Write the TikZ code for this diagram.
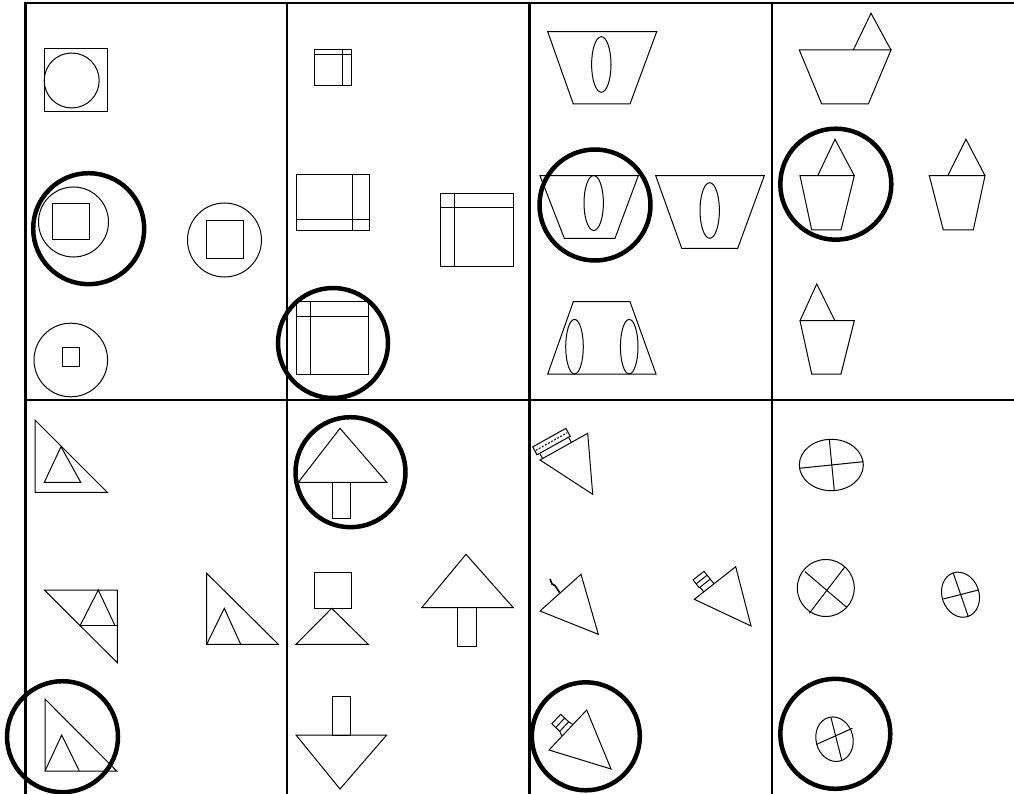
\documentclass[tikz,border=0pt]{standalone}
\begin{document}
\begin{tikzpicture}[x=1pt,y=-1pt,
  fig/.style={draw=black, line width=1pt, line join=miter},
  ring/.style={draw=black, line width=4.5pt},
  gridline/.style={draw=black, line width=1.6pt},
  heavyline/.style={draw=black, line width=3pt}]
\useasboundingbox (0,0) rectangle (1014,794);
% grid
\draw[gridline] (25,3) -- (1014,3);
\draw[gridline] (25,400) -- (1014,400);
\draw[heavyline] (25,2) -- (25,794);
\draw[gridline] (287,3) -- (287,794);
\draw[heavyline] (529,3) -- (529,794);
\draw[gridline] (772,3) -- (772,794);
% cell 1
\draw[fig] (44,49) rectangle (107,112);
\draw[fig] (71.7,80.5) circle (27.5);
\draw[fig] (73.5,222) circle (35);
\draw[fig] (52.5,203.5) rectangle (89.5,240);
\draw[ring] (88.7,228.7) circle (55.5);
\draw[fig] (224.5,240) circle (37);
\draw[fig] (206,221) rectangle (243.3,258.3);
\draw[fig] (70.8,360) circle (36.8);
\draw[fig] (62.3,347.7) rectangle (79.3,366.7);
% cell 2
\draw[fig] (314.3,49.3) rectangle (351,86);
\draw[fig] (314.3,55) -- (351,55);
\draw[fig] (342.3,49.3) -- (342.3,86);
\draw[fig] (296,175) rectangle (369,230.7);
\draw[fig] (352.7,175) -- (352.7,230.7);
\draw[fig] (296,220) -- (369,220);
\draw[fig] (440,193.3) rectangle (513,266.7);
\draw[fig] (454.7,193.3) -- (454.7,266.7);
\draw[fig] (440,207.7) -- (513,207.7);
\draw[fig] (296.7,301.7) rectangle (368.3,374);
\draw[fig] (310.7,301.7) -- (310.7,374);
\draw[fig] (296.7,316) -- (368.3,316);
\draw[ring] (333,343) circle (55);
% cell 3
\draw[fig] (547.7,31.7) -- (656.7,31.7) -- (630,104) -- (573.3,104) -- cycle;
\draw[fig] (601.3,64.5) ellipse [x radius=9.7, y radius=27.8];
\draw[fig] (540,175.7) -- (638.3,175.7) -- (615,238.3) -- (564.3,238.3) -- cycle;
\draw[fig] (593.7,203) ellipse [x radius=9.7, y radius=27.5];
\draw[ring] (595,205) circle (55.5);
\draw[fig] (655.7,175.7) -- (764.3,175.7) -- (737.7,248.3) -- (681.7,248.3) -- cycle;
\draw[fig] (709.7,210.5) ellipse [x radius=9.7, y radius=27.8];
\draw[fig] (573.3,301.7) -- (630,301.7) -- (656,374) -- (547.7,374) -- cycle;
\draw[fig] (574.5,346.7) ellipse [x radius=8.8, y radius=27.3];
\draw[fig] (629.2,346.7) ellipse [x radius=8.8, y radius=27.3];
% cell 4
\draw[fig] (799.3,50) -- (891,50) -- (868.3,104) -- (821.7,104) -- cycle;
\draw[fig] (853.3,50) -- (871,13.3) -- (891,50);
\draw[fig] (800,175.7) -- (854.3,175.7) -- (841,230) -- (811.7,230) -- cycle;
\draw[fig] (817.7,175.7) -- (835,139.3) -- (854.3,175.7);
\draw[ring] (835.8,184.2) circle (55.5);
\draw[fig] (929.3,175.7) -- (985,175.7) -- (973.3,230) -- (943.3,230) -- cycle;
\draw[fig] (947.7,175.7) -- (966,139.3) -- (985,175.7);
\draw[fig] (800,320.7) -- (854.3,320.7) -- (841,374) -- (811.7,374) -- cycle;
\draw[fig] (800,320.7) -- (816.7,284) -- (835,320.7);
% cell 5
\draw[fig] (35,420) -- (35,492.3) -- (107.3,492.3) -- cycle;
\draw[fig] (44.3,482.3) -- (61,446.7) -- (80.7,482.3) -- cycle;
\draw[fig] (44.3,590) -- (117.3,590) -- (117.3,662.7) -- cycle;
\draw[fig] (80,625.7) -- (117.3,625.7);
\draw[fig] (80,625.7) -- (98.3,590) -- (115,625.7);
\draw[fig] (206.7,573.3) -- (206.7,644.3) -- (278.3,644.3) -- cycle;
\draw[fig] (206.7,644.3) -- (224.3,608.3) -- (240.7,644.3);
\draw[fig] (45,699) -- (45,771) -- (116.7,771) -- cycle;
\draw[fig] (45,771) -- (61.7,735) -- (79.3,771);
\draw[ring] (62.5,736.7) circle (55.5);
% cell 6
\draw[fig] (298.3,482.3) -- (340,428.3) -- (386.7,482.3) -- cycle;
\draw[fig] (332.3,482.3) rectangle (350.7,518.3);
\draw[ring] (350.5,472.2) circle (55);
\draw[fig] (314.3,572.7) rectangle (351,608.3);
\draw[fig] (296,644.3) -- (331.7,608.3) -- (368.3,644.3) -- cycle;
\draw[fig] (421.7,607.7) -- (466,554.3) -- (513.3,607.7) -- cycle;
\draw[fig] (457.7,607.7) rectangle (476.7,646.7);
\draw[fig] (332.3,696.7) rectangle (350.7,735);
\draw[fig] (296,735) -- (386.7,735) -- (340,789) -- cycle;
% cell 7
\draw[fig] (540,460) -- (587.7,433.3) -- (592.7,494.3) -- cycle;
\begin{scope}[shift={(540,460)}, rotate=29.2]
  \draw[fig] (3,0) -- (3,-6) (36,0) -- (36,-6);
  \draw[fig] (0,-6) rectangle (38,-15);
  \draw[fig, dash pattern=on 2pt off 1.5pt] (1,-10.5) -- (37,-10.5);
\end{scope}
\draw[fig] (540,611) -- (581,574.3) -- (598.3,634.3) -- cycle;
\draw[fig, line width=1.6pt] (550,579) -- (552,584) -- (555,585.5) -- (559.5,592.5);
\draw[fig] (694.3,599.3) -- (735.7,566.7) -- (751,626) -- cycle;
\begin{scope}[shift={(694.3,599.3)}, rotate=38.2]
  \draw[fig] (12,0) -- (12,-6) (25,0) -- (25,-6);
  \draw[fig] (11,-6) rectangle (25,-16);
  \draw[fig] (11,-11) -- (25,-11);
\end{scope}
\draw[fig] (549,750) -- (586.7,710) -- (611,769) -- cycle;
\begin{scope}[shift={(549,750)}, rotate=46.7]
  \draw[fig] (19,0) -- (21,-5) (35,0) -- (34,-5);
  \draw[fig] (21,-5) rectangle (34,-16);
  \draw[fig] (21,-10.5) -- (34,-10.5);
\end{scope}
\draw[ring] (585.8,736.3) circle (54);
% cell 8
\draw[fig] (831.3,465) ellipse [x radius=32, y radius=25.7];
\draw[fig] (829.3,439.3) -- (834.3,490.7);
\draw[fig] (799.3,468.3) -- (863.3,461.7);
\draw[fig] (825.8,588) circle (28.5);
\draw[fig] (805,571.7) -- (846.7,607.3);
\draw[fig] (845,566.7) -- (809.3,613.3);
\draw[fig, rotate around={19:(960.5,594.7)}] (960.5,594.7) ellipse [x radius=18.5, y radius=23];
\draw[fig] (953.3,573.3) -- (968.3,616.7);
\draw[fig] (943.3,599) -- (978.3,590);
\draw[fig, rotate around={14:(834.5,739.2)}] (834.5,739.2) ellipse [x radius=18.5, y radius=22.5];
\draw[fig] (831,717.7) -- (841.7,760);
\draw[fig] (816.7,744.3) -- (852.3,728.3);
\draw[ring] (835.3,733.8) circle (55);
\end{tikzpicture}
\end{document}
